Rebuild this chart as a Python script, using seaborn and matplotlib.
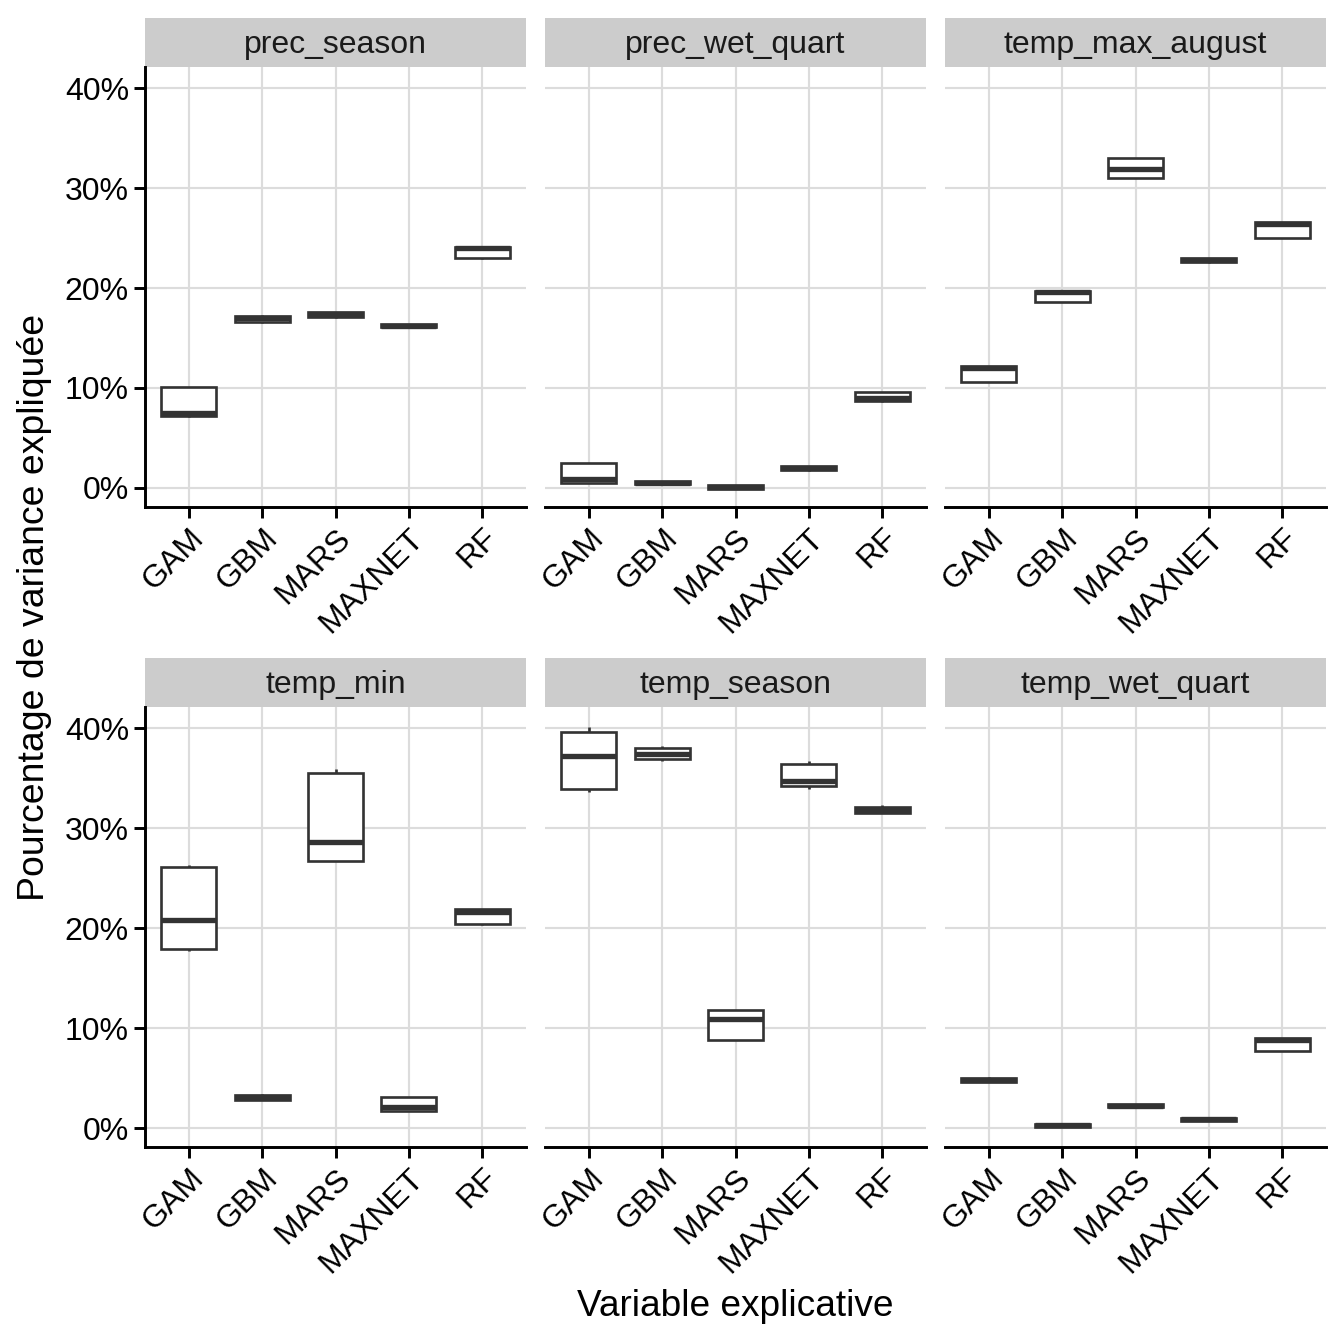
import matplotlib
matplotlib.use("Agg")
import matplotlib.pyplot as plt
import seaborn as sns
import pandas as pd
from matplotlib.patches import Rectangle

sns.set_style("white")
plt.rcParams['font.family'] = ['Liberation Sans', 'DejaVu Sans']

models = ["GAM", "GBM", "MARS", "MAXNET", "RF"]
facets = ["prec_season", "prec_wet_quart", "temp_max_august",
          "temp_min", "temp_season", "temp_wet_quart"]
y_ticks = [0, 10, 20, 30, 40]
y_tick_labels = ["0%", "10%", "20%", "30%", "40%"]

# five replicate values (% variance explained) per model: GAM, GBM, MARS, MAXNET, RF
prec_season = [[7.1, 7.2, 7.45, 10.1, 10.1],
               [16.5, 16.6, 17.0, 17.2, 17.3],
               [17.0, 17.05, 17.4, 17.6, 17.6],
               [16.0, 16.05, 16.2, 16.35, 16.4],
               [22.9, 23.0, 23.95, 24.1, 24.1]]
prec_wet_quart = [[0.5, 0.5, 0.85, 2.5, 2.5],
                  [0.3, 0.35, 0.5, 0.65, 0.7],
                  [-0.15, -0.1, 0.05, 0.25, 0.3],
                  [1.7, 1.75, 1.95, 2.15, 2.2],
                  [8.55, 8.7, 9.0, 9.6, 9.6]]
temp_max_august = [[10.6, 10.6, 12.0, 12.2, 12.2],
                   [18.6, 18.6, 19.55, 19.7, 19.7],
                   [31.0, 31.0, 31.9, 33.0, 33.0],
                   [22.5, 22.55, 22.75, 22.95, 23.0],
                   [25.0, 25.0, 26.4, 26.6, 26.6]]
temp_min = [[17.7, 17.9, 20.8, 26.1, 26.3],
            [2.8, 2.85, 3.1, 3.35, 3.4],
            [26.7, 26.7, 28.6, 35.5, 35.9],
            [1.7, 1.7, 2.1, 3.1, 3.1],
            [20.3, 20.4, 21.6, 21.9, 21.9]]
temp_season = [[33.6, 33.9, 37.2, 39.6, 40.1],
               [36.7, 36.9, 37.45, 38.0, 38.2],
               [8.8, 8.8, 10.9, 11.8, 11.8],
               [33.9, 34.2, 34.7, 36.4, 36.7],
               [31.5, 31.55, 31.8, 32.1, 32.3]]
temp_wet_quart = [[4.6, 4.65, 4.85, 5.05, 5.1],
                  [0.1, 0.15, 0.3, 0.45, 0.5],
                  [2.05, 2.1, 2.25, 2.4, 2.45],
                  [0.7, 0.75, 0.9, 1.05, 1.1],
                  [7.7, 7.7, 8.8, 9.0, 9.0]]

facet_values = [prec_season, prec_wet_quart, temp_max_august,
                temp_min, temp_season, temp_wet_quart]

rows = []
for fname, vals in zip(facets, facet_values):
    for m, reps in zip(models, vals):
        for v in reps:
            rows.append({"facet": fname, "model": m, "value": v})
df = pd.DataFrame(rows)

W = 1344
fig = plt.figure(figsize=(7, 7), dpi=192)
col_x = [145, 545, 945]
row_y = [(67, 507), (707, 1147)]
pw = 381
strip_h = 49

grid_col = "#DCDCDC"
line_col = "#333333"

for i, fname in enumerate(facets):
    r, c = divmod(i, 3)
    top, bot = row_y[r]
    ax = fig.add_axes([col_x[c] / W, 1 - bot / W, pw / W, (bot - top) / W])
    sub = df[df["facet"] == fname]
    sns.boxplot(data=sub, x="model", y="value", order=models, ax=ax,
                color="white", linecolor=line_col, linewidth=1.0, width=0.75,
                fliersize=0, showcaps=False,
                medianprops=dict(linewidth=2.0, color=line_col),
                whiskerprops=dict(linewidth=1.0, color=line_col),
                boxprops=dict(linewidth=1.0, edgecolor=line_col, facecolor="white"))
    ax.set_axisbelow(True)
    ax.xaxis.grid(True, color=grid_col, linewidth=0.8)
    ax.yaxis.grid(True, color=grid_col, linewidth=0.8)
    ax.set_xlim(-0.6, 4.6)
    ax.set_ylim(-1.9, 42.1)
    ax.set_yticks(y_ticks)
    ax.set_xlabel("")
    ax.set_ylabel("")
    for s in ["top", "right"]:
        ax.spines[s].set_visible(False)
    ax.spines["bottom"].set_color("black")
    ax.spines["bottom"].set_linewidth(1.1)
    if c == 0:
        ax.spines["left"].set_color("black")
        ax.spines["left"].set_linewidth(1.1)
        ax.set_yticklabels(y_tick_labels)
        ax.tick_params(axis="y", length=4, width=1.1, color="black",
                       labelsize=12, labelcolor="black", pad=2, left=True)
    else:
        ax.spines["left"].set_visible(False)
        ax.tick_params(axis="y", left=False, labelleft=False)
    ax.tick_params(axis="x", length=4, width=1.1, color="black",
                   labelsize=12, labelcolor="black", pad=2, bottom=True)
    for lab in ax.get_xticklabels():
        lab.set_rotation(45)
        lab.set_ha("right")
        lab.set_va("top")
        lab.set_rotation_mode("anchor")
    # facet strip
    h = strip_h / (bot - top)
    ax.add_patch(Rectangle((0, 1), 1, h, transform=ax.transAxes,
                           facecolor="#CCCCCC", edgecolor="none", clip_on=False))
    ax.text(0.5, 1 + h / 2 - 0.006, fname, transform=ax.transAxes, ha="center",
            va="center", fontsize=12, color="#1A1A1A")

fig.text(35 / W, 1 - 607 / W, "Pourcentage de variance expliquée",
         rotation=90, ha="center", va="center", fontsize=14, color="black")
fig.text(735 / W, 1 - 1306 / W, "Variable explicative",
         ha="center", va="center", fontsize=13.9, color="black")

fig.savefig("out.png", dpi=192, facecolor="white")
